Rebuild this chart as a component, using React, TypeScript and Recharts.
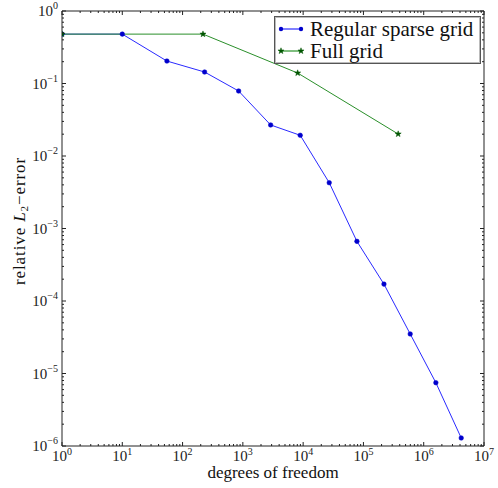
import React from 'react';
import { LineChart, Line, XAxis, YAxis, Legend } from 'recharts';

// degrees of freedom vs relative L2 error
const sparseDof = [1, 10, 55, 232, 851, 2890, 8950, 27100, 78000, 219000, 597000, 1590000, 4190000];
const sparseErr = [0.48, 0.48, 0.204, 0.144, 0.0788, 0.0268, 0.0193, 0.00428, 0.000665, 0.000171, 0.0000351, 0.00000747, 0.00000129];
const fullDof = [1, 218, 8110, 377000];
const fullErr = [0.48, 0.48, 0.1395, 0.0201];

const xExps = [0, 1, 2, 3, 4, 5, 6, 7];
const yExps = [-6, -5, -4, -3, -2, -1, 0];

const FONT = '"Liberation Serif", "Times New Roman", serif';
const BLUE = '#0000ff';
const GREEN = '#007f00';

const sparseData = sparseDof.map((x, i) => ({ x, y: sparseErr[i] }));
const fullData = fullDof.map((x, i) => ({ x, y: fullErr[i] }));

function logTicks(exps: number[]) {
  const out: number[] = [];
  exps.forEach((e, i) => {
    out.push(Math.pow(10, e));
    if (i < exps.length - 1) {
      for (let k = 2; k <= 9; k++) out.push(k * Math.pow(10, e));
    }
  });
  return out;
}

const xTicks = logTicks(xExps);
const yTicks = logTicks(yExps);

function expOf(v: number) {
  const e = Math.log10(v);
  const r = Math.round(e);
  return Math.abs(e - r) < 1e-6 ? r : null;
}

function fmtExp(e: number) {
  return e < 0 ? `\u2212${-e}` : `${e}`;
}

const XTick = (props: any) => {
  const { x, y, payload, side } = props;
  const e = expOf(payload.value);
  const len = e !== null ? 4 : 2;
  const dir = side === 'bottom' ? -1 : 1;
  return (
    <g>
      <line x1={x} x2={x} y1={y} y2={y + dir * len} stroke="#222" strokeWidth={1} />
      {e !== null && side === 'bottom' && (
        <text x={x} y={y + 15} textAnchor="middle" fontFamily={FONT} fontSize={15} fill="#222">
          10<tspan dy={-6} fontSize={10}>{fmtExp(e)}</tspan>
        </text>
      )}
    </g>
  );
};

const YTick = (props: any) => {
  const { x, y, payload, side } = props;
  const e = expOf(payload.value);
  const len = e !== null ? 4 : 2;
  const dir = side === 'left' ? 1 : -1;
  return (
    <g>
      <line x1={x} x2={x + dir * len} y1={y} y2={y} stroke="#222" strokeWidth={1} />
      {e !== null && side === 'left' && (
        <text x={x - 4} y={y + 5} textAnchor="end" fontFamily={FONT} fontSize={15} fill="#222">
          10<tspan dy={-7} fontSize={10}>{fmtExp(e)}</tspan>
        </text>
      )}
    </g>
  );
};

const Star = (props: any) => {
  const { cx, cy } = props;
  if (cx == null || cy == null) return null;
  const pts: string[] = [];
  for (let i = 0; i < 10; i++) {
    const r = i % 2 === 0 ? 3.2 : 1.3;
    const a = -Math.PI / 2 + (i * Math.PI) / 5;
    pts.push(`${cx + r * Math.cos(a)},${cy + r * Math.sin(a)}`);
  }
  return <polygon points={pts.join(' ')} fill="#005500" stroke="#005500" strokeWidth={0.5} />;
};

const legendItems = [
  { name: 'Regular sparse grid', color: BLUE, marker: 'circle' },
  { name: 'Full grid', color: GREEN, marker: 'star' },
];

function LegendBox() {
  return (
    <div
      style={{
        width: 207,
        height: 48,
        border: '1px solid #555',
        boxShadow: '0 0 0 1px #bbb inset',
        background: '#fff',
        boxSizing: 'border-box',
        fontFamily: FONT,
        fontSize: 21,
        color: '#111',
        paddingTop: 1,
      }}
    >
      {legendItems.map((it) => (
        <div key={it.name} style={{ display: 'flex', alignItems: 'center', height: 22 }}>
          <svg width={34} height={12} style={{ flex: 'none' }}>
            <line x1={6} x2={26} y1={6} y2={6} stroke={it.color} strokeWidth={1} />
            {it.marker === 'circle' ? (
              <>
                <circle cx={6} cy={6} r={2.2} fill="#0000cc" />
                <circle cx={26} cy={6} r={2.2} fill="#0000cc" />
              </>
            ) : (
              <>
                <Star cx={6} cy={6} />
                <Star cx={26} cy={6} />
              </>
            )}
          </svg>
          <span style={{ marginLeft: 1, lineHeight: '22px', whiteSpace: 'nowrap' }}>{it.name}</span>
        </div>
      ))}
    </div>
  );
}

const XLabel = (props: any) => {
  const vb = props.viewBox || {};
  return (
    <text x={vb.x + vb.width / 2} y={478} textAnchor="middle" fontFamily={FONT} fontSize={17} fill="#111">
      degrees of freedom
    </text>
  );
};

const YLabel = () => {
  const cx = 25;
  const cy = 221;
  return (
    <g transform={`translate(${cx} ${cy}) rotate(-90)`}>
      <text x={0} y={0} textAnchor="middle" fontFamily={FONT} fontSize={17} letterSpacing={0.9} fill="#111">
        relative <tspan fontStyle="italic">L</tspan>
        <tspan dy={3} fontSize={11}>2</tspan>
        <tspan dy={-3}>{'\u2212error'}</tspan>
      </text>
    </g>
  );
};

const xCommon = {
  dataKey: 'x',
  type: 'number' as const,
  scale: 'log' as const,
  domain: [1, 1e7],
  allowDataOverflow: true,
  ticks: xTicks,
  interval: 0,
  tickSize: 0,
  tickMargin: 0,
  tickLine: false,
  axisLine: { stroke: '#222' },
};

const yCommon = {
  dataKey: 'y',
  type: 'number' as const,
  scale: 'log' as const,
  domain: [1e-6, 1],
  allowDataOverflow: true,
  ticks: yTicks,
  interval: 0,
  tickSize: 0,
  tickMargin: 0,
  tickLine: false,
  axisLine: { stroke: '#222' },
};

export default function App() {
  return (
    <div style={{ position: 'absolute', left: 0, top: 0, width: 498, height: 488, background: '#fff' }}>
      <LineChart width={498} height={488} margin={{ top: 10, right: 13, bottom: 2, left: 2 }}>
        <XAxis xAxisId="bottom" {...xCommon} height={40} tick={<XTick side="bottom" />} label={<XLabel />} />
        <XAxis xAxisId="top" orientation="top" {...xCommon} height={1} tick={<XTick side="top" />} />
        <YAxis yAxisId="left" {...yCommon} width={60} tick={<YTick side="left" />} label={<YLabel />} />
        <YAxis yAxisId="right" orientation="right" {...yCommon} width={1} tick={<YTick side="right" />} />
        <Line
          xAxisId="bottom"
          yAxisId="left"
          data={sparseData}
          dataKey="y"
          name="Regular sparse grid"
          stroke="#2a2aff"
          strokeWidth={1}
          dot={{ r: 2.3, fill: '#0000cc', stroke: '#0000cc', strokeWidth: 0.5 }}
          isAnimationActive={false}
        />
        <Line
          xAxisId="bottom"
          yAxisId="left"
          data={fullData}
          dataKey="y"
          name="Full grid"
          stroke="#2a8f2a"
          strokeWidth={1}
          dot={<Star />}
          isAnimationActive={false}
        />
        <Line
          xAxisId="top"
          yAxisId="right"
          data={fullData}
          dataKey="y"
          stroke="none"
          dot={false}
          legendType="none"
          isAnimationActive={false}
        />
        <Legend
          layout="horizontal"
          verticalAlign="middle"
          align="center"
          wrapperStyle={{ position: 'absolute', top: 16, left: 274, width: 207, height: 48 }}
          content={() => <LegendBox />}
        />
      </LineChart>
    </div>
  );
}
